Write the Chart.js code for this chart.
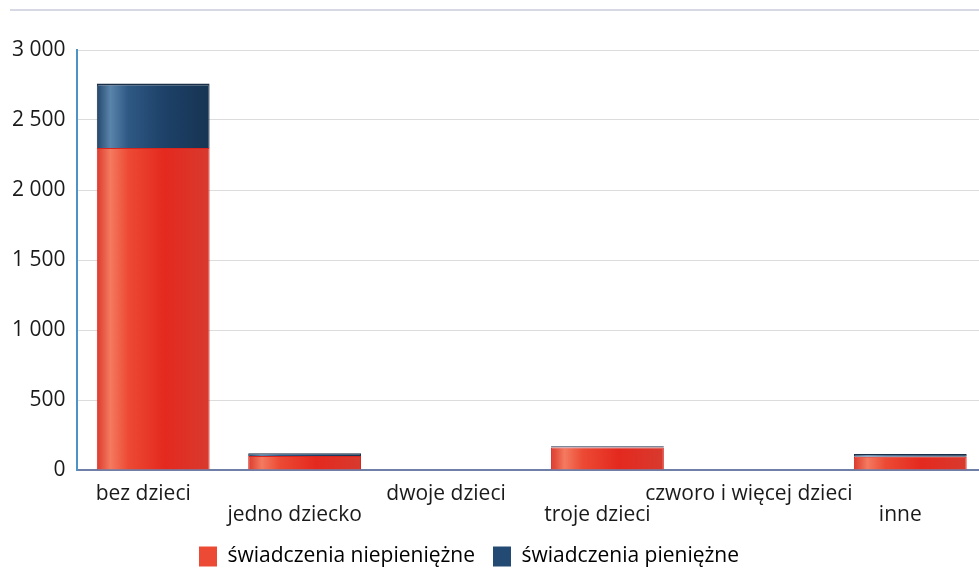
<!DOCTYPE html>
<html>
<head>
<meta charset="utf-8">
<script src="https://cdn.jsdelivr.net/npm/chart.js@4"></script>
<style>
	html, body { margin: 0; padding: 0; background: #fff; overflow: hidden; }
	.topLine { position: absolute; left: 10px; top: 9px; width: 969px; height: 0; border-top: 2px solid #d6d9e4; }
	.wrap { position: absolute; left: 0; top: 0; width: 1000px; height: 571px; }
</style>
</head>
<body>
<div class="topLine"></div>
<div class="wrap"><canvas id="benefitsChart" width="1000" height="571"></canvas></div>
<script>
"use strict";

const categories = ["bez dzieci", "jedno dziecko", "dwoje dzieci", "troje dzieci", "czworo i więcej dzieci", "inne"];
const nonCash = [2300, 100, 0, 160, 0, 95];
const cash = [460, 20, 0, 10, 0, 20];
const yTicks = [0, 500, 1000, 1500, 2000, 2500, 3000];

// staggered labels: even categories on the first row, odd on the second
const staggered = categories.map((c, i) => i % 2 === 0 ? [c, ""] : ["", c]);

const redStops = [[0, "#dc3a2c"], [0.12, "#f47a60"], [0.28, "#ec4a34"], [0.6, "#e4291f"], [1, "#d83a2e"]];
const blueStops = [[0, "#23476c"], [0.12, "#5a84aa"], [0.28, "#2e5883"], [0.6, "#1d4168"], [1, "#173452"]];

// horizontal "cylinder" shading for each bar
const shadePlugin = {
	id: "shadeBars",
	beforeDatasetsDraw(chart) {
		chart.data.datasets.forEach((ds, di) => {
			const stops = di === 0 ? redStops : blueStops;
			chart.getDatasetMeta(di).data.forEach(el => {
				const half = el.width / 2;
				const g = chart.ctx.createLinearGradient(el.x - half, 0, el.x + half, 0);
				stops.forEach(s => g.addColorStop(s[0], s[1]));
				el.options = Object.assign({}, el.options, { backgroundColor: g });
			});
		});
	}
};

// nudge the legend a bit left and up
const shiftLegend = {
	id: "shiftLegend",
	afterLayout(chart) {
		chart.legend.left -= 24;
		chart.legend.right -= 24;
		chart.legend.top -= 12;
		chart.legend.bottom -= 12;
	}
};

const ctx = document.getElementById("benefitsChart").getContext("2d");

const benefitsChart = new Chart(ctx, {
	type: "bar",
	data: {
		labels: staggered,
		datasets: [
			{
				label: "świadczenia niepieniężne",
				data: nonCash,
				backgroundColor: "#ec4a34",
				borderColor: "#d8261f",
				borderWidth: c => c.raw ? 1 : 0,
				borderSkipped: "bottom"
			},
			{
				label: "świadczenia pieniężne",
				data: cash,
				backgroundColor: "#2e5883",
				borderColor: "#1a2f48",
				borderWidth: c => c.raw ? { top: 2, left: 1, right: 1, bottom: 0 } : 0,
				borderSkipped: "bottom"
			}
		]
	},
	options: {
		responsive: false,
		animation: false,
		devicePixelRatio: 1,
		barPercentage: 0.745,
		categoryPercentage: 1,
		layout: { padding: { top: 50, right: 14, left: 0, bottom: -18 } },
		plugins: {
			tooltip: { enabled: false },
			legend: {
				position: "bottom",
				labels: {
					font: { family: "Open Sans", size: 21 },
					color: "#1a1a1a",
					boxWidth: 18,
					boxHeight: 20,
					padding: 18,
					generateLabels(chart) {
						return chart.data.datasets.map((ds, i) => ({
							text: ds.label,
							fillStyle: i === 0 ? "#ec4a34" : "#234a72",
							strokeStyle: i === 0 ? "#ec4a34" : "#234a72",
							lineWidth: 0,
							datasetIndex: i
						}));
					}
				}
			}
		},
		scales: {
			x: {
				stacked: true,
				grid: { display: false, drawTicks: false },
				border: { color: "#6f7fa8", width: 2 },
				ticks: {
					font: { family: "Open Sans", size: 21, lineHeight: 1.0 },
					color: "#1a1a1a",
					maxRotation: 0,
					autoSkip: false,
					labelOffset: -10,
					padding: 14
				}
			},
			y: {
				stacked: true,
				min: 0,
				max: 3000,
				afterBuildTicks(axis) {
					axis.ticks = yTicks.map(v => ({ value: v }));
				},
				grid: { color: "#dcdcdc", drawTicks: false },
				border: { color: "#4d93c4", width: 2 },
				ticks: {
					font: { family: "Open Sans", size: 21 },
					color: "#1a1a1a",
					padding: 12,
					callback: v => String(v).replace(/\B(?=(\d{3})+(?!\d))/g, " ")
				}
			}
		}
	},
	plugins: [shadePlugin, shiftLegend]
});
</script>
</body>
</html>
